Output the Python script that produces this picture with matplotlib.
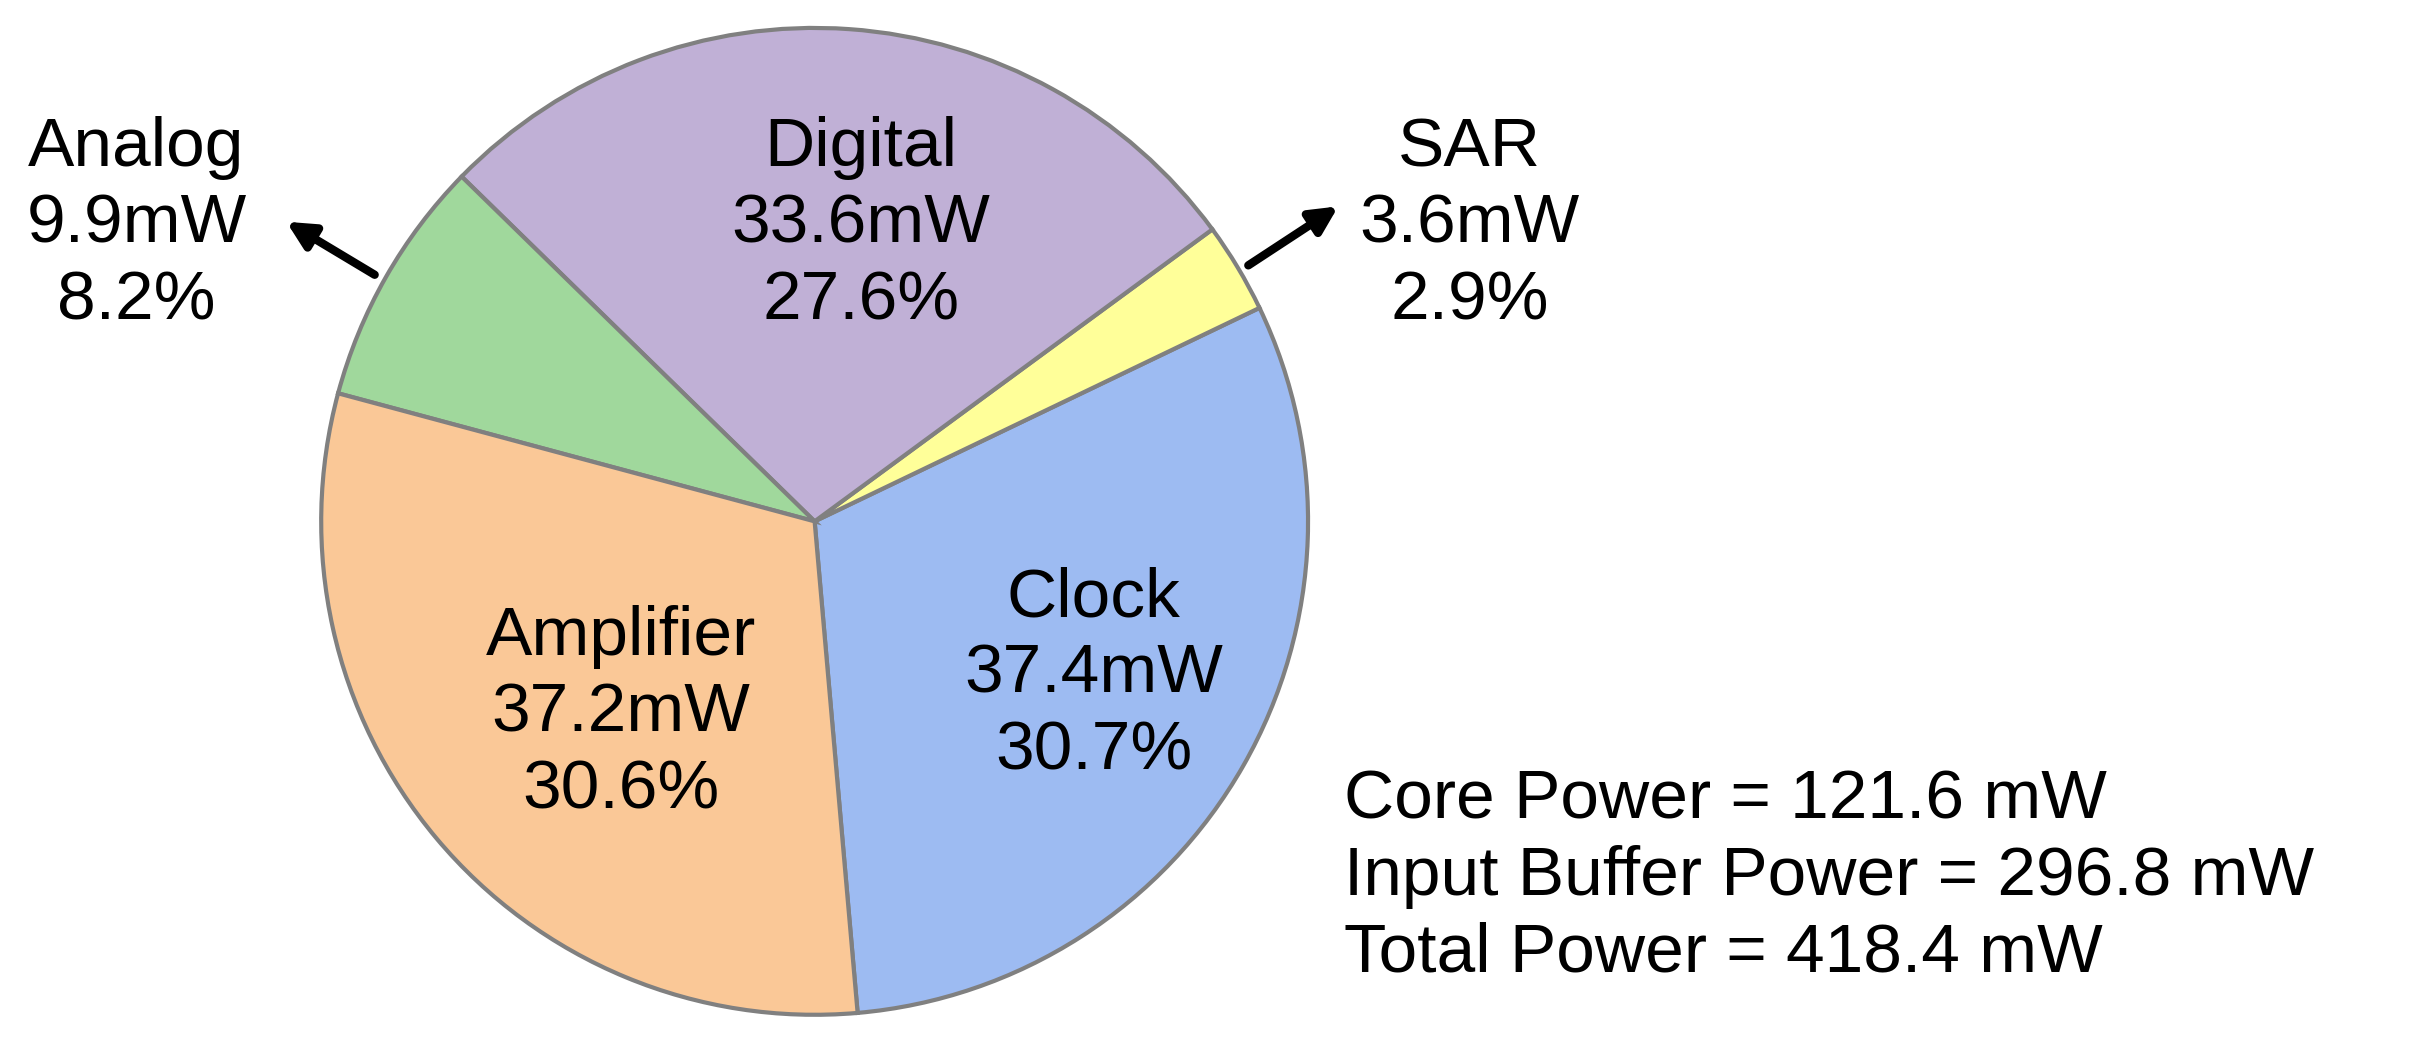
import matplotlib.pyplot as plt

plt.rcParams['font.family'] = ['Liberation Sans', 'DejaVu Sans']

# data
labels = ['Clock', 'SAR', 'Digital', 'Analog', 'Amplifier']
power_mw = [37.4, 3.6, 33.6, 9.9, 37.2]
percents = ['30.7%', '2.9%', '27.6%', '8.2%', '30.6%']
colors = ['#9DBBF2', '#FFFF99', '#C0B0D6', '#A0D89C', '#FAC897']
summary = ['Core Power = 121.6 mW',
           'Input Buffer Power = 296.8 mW',
           'Total Power = 418.4 mW']

W, H = 2433, 1044
S = W / 1568.0  # reference sketch scale


def P(x, y):
    return x * S, H - y * S


fig = plt.figure(figsize=(W / 100, H / 100), dpi=100)
ax = fig.add_axes([0, 0, 1, 1])
ax.set_xlim(0, W)
ax.set_ylim(0, H)
ax.set_aspect('equal')
ax.axis('off')

cx, cy = P(525, 336)
ax.pie(power_mw, colors=colors, startangle=-85, counterclock=True,
       center=(cx, cy), radius=318 * S,
       wedgeprops=dict(edgecolor='#808080', linewidth=3))
ax.set_xlim(0, W)
ax.set_ylim(0, H)

fs = 50
txt = {lab: f'{lab}\n{p:.1f}mW\n{pc}' for lab, p, pc in zip(labels, power_mw, percents)}
pos = {'Digital': (555, 145), 'SAR': (947, 145), 'Analog': (88, 145),
       'Amplifier': (400, 460), 'Clock': (705, 435)}
for lab in labels:
    x, y = P(*pos[lab])
    ax.text(x, y, txt[lab], ha='center', va='center', fontsize=fs, linespacing=1.25)

x, y = P(866, 565)
ax.text(x, y, '\n'.join(summary), ha='left', va='center', fontsize=fs, linespacing=1.25)

for start, end in [((243, 178), (183, 142)), ((803, 172), (864, 132))]:
    ax.annotate('', xy=P(*end), xytext=P(*start),
                arrowprops=dict(arrowstyle='-|>,head_length=1.6,head_width=0.8',
                                color='black', lw=6))

fig.savefig('out.png', dpi=100)
